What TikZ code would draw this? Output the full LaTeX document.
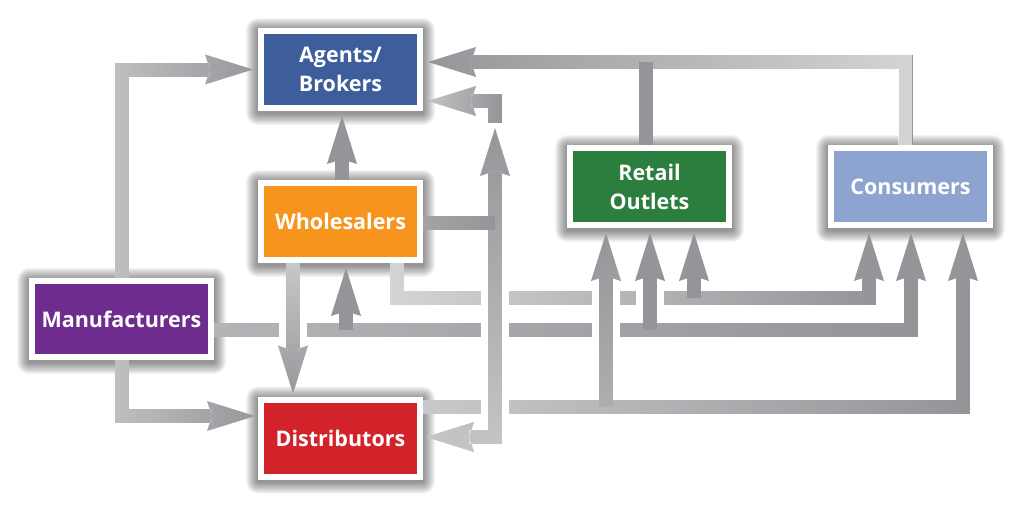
\documentclass[tikz,border=0pt]{standalone}
\usepackage{fontspec}
\setmainfont{Open Sans}
\usetikzlibrary{arrows.meta,calc,fadings}
\definecolor{agc}{HTML}{3D5E9A}
\definecolor{whc}{HTML}{F7941E}
\definecolor{mnc}{HTML}{6F2C8F}
\definecolor{dsc}{HTML}{D2232A}
\definecolor{rtc}{HTML}{2B7E3E}
\definecolor{csc}{HTML}{8EA4D0}
\definecolor{lgray}{HTML}{939598}
\tikzfading[name=lightleft, left color=transparent!0, right color=transparent!100]
\tikzfading[name=lightright, left color=transparent!100, right color=transparent!0]
\tikzfading[name=lighttop, top color=transparent!0, bottom color=transparent!100]
\tikzfading[name=lightbottom, top color=transparent!100, bottom color=transparent!0]
\pgfdeclarelayer{background}
\pgfsetlayers{background,main}
\newcommand{\softshadow}[1]{%
  \foreach \k in {1,...,12}{%
    \fill[black, opacity=0.045, rounded corners=\k pt]
      ([xshift=-\k pt, yshift=-\k pt-2pt]#1.south west) rectangle
      ([xshift=\k pt, yshift=\k pt-2pt]#1.north east);}}
\begin{document}
\begin{tikzpicture}[x=1pt,y=-1pt,
  >={Stealth[length=48pt,width=30pt,inset=5pt,line width=0pt]},
  box/.style={draw=white, line width=6pt, minimum width=159pt, minimum height=77pt,
    inner sep=0pt, outer sep=3pt, text=white,
    font=\fontsize{21.5}{29}\selectfont\bfseries, align=center},
  conn/.style={draw=lgray, line width=14pt, ->, shorten >=5pt},
  plainline/.style={draw=lgray, line width=14pt},
  casing/.style={draw=white, line width=28pt},
  fadeL/.style={postaction={draw=white, opacity=#1, path fading=lightleft}},
  fadeR/.style={postaction={draw=white, opacity=#1, path fading=lightright}},
  fadeT/.style={postaction={draw=white, opacity=#1, path fading=lighttop}},
  fadeB/.style={postaction={draw=white, opacity=#1, path fading=lightbottom}}]
\useasboundingbox (0,0) rectangle (1024,509);

% boxes
\node[box, fill=agc] (ag) at (340.5,69.5) {Agents/\\Brokers};
\node[box, fill=whc] (wh) at (340.5,221.5) {Wholesalers};
\node[box, fill=mnc, minimum width=179pt, minimum height=76pt] (mn) at (121.5,319) {Manufacturers};
\node[box, fill=dsc] (ds) at (340.5,438) {Distributors};
\node[box, fill=rtc] (rt) at (649.5,186.5) {Retail\\Outlets};
\node[box, fill=csc] (cs) at (910.5,186.5) {Consumers};

\begin{pgfonlayer}{background}
\softshadow{ag}\softshadow{wh}\softshadow{mn}\softshadow{ds}\softshadow{rt}\softshadow{cs}
\end{pgfonlayer}

% helper coordinates
\coordinate (mL) at ($(mn.east)+(0,11)$);
\coordinate (wS) at ($(wh.south)+(56.5,0)$);
\coordinate (wL) at ($(wh.south)+(56.5,35)$);
\coordinate (dL) at ($(ds.east)+(0,-31)$);
\coordinate (b1) at ($(wh.south)+(5.5,0)$);
\coordinate (b2) at ($(rt.south)+(0.5,0)$);
\coordinate (b3) at ($(rt.south)+(44.5,0)$);
\coordinate (b4) at ($(rt.south)+(-43.5,0)$);
\coordinate (c1) at ($(cs.south)+(-41.5,0)$);
\coordinate (c2) at ($(cs.south)+(0.5,0)$);
\coordinate (c3) at ($(cs.south)+(52.5,0)$);
\coordinate (tL) at ($(ag.east)+(0,-7.5)$);
\coordinate (rN) at ($(rt.north)+(-3.5,0)$);
\coordinate (cN) at ($(cs.north)+(-4.5,0)$);
\coordinate (wE) at ($(wh.east)+(0,1.5)$);
\coordinate (jn) at ($(wh.east)+(72,1.5)$);
\coordinate (upend) at ($(ag.east)+(72,55.5)$);
\coordinate (lstart) at ($(ag.east)+(72,53.5)$);
\coordinate (lend) at ($(ag.east)+(0,31.5)$);

% manufacturers to agents / distributors
\draw[conn, fadeL=0.4] (mn.north) |- (ag.west);
\draw[conn, fadeL=0.4, shorten >=3pt] (mn.south) |- ($(ds.west)+(0,-22)$);

% long horizontal lines
\draw[conn, fadeL=0.3] (mL) -| (c2);
\draw[conn, fadeL=0.6] (wS) -- (wL) -| (c1);
\draw[conn, fadeL=0.5] (dL) -| (c3);

% bridges
\draw[casing] (293,315) -- (293,345);
\draw[casing] (495,285) -- (495,420);
\draw[casing] (606,285) -- (606,395);
\draw[casing] (650,285) -- (650,318);

% verticals
\draw[conn] (b1 |- mL) -- (b1);
\draw[conn] (b2 |- mL) -- (b2);
\draw[conn] (b3 |- wL) -- (b3);
\draw[conn, fadeB=0.25] (b4 |- dL) -- (b4);
\draw[conn, fadeT=0.5, shorten >=3pt] ($(wh.south)+(-47.5,0)$) -- ($(ds.north)+(-47.5,0)$);
\draw[conn] ($(wh.north)+(1.5,0)$) -- ($(ag.south)+(1.5,0)$);

% wholesalers right
\draw[conn, <->, fadeB=0.45, shorten <=3pt, shorten >=3pt] (upend) |- ($(ds.east)+(0,-1)$);
\draw[plainline, fadeL=0.15] (wE) -- (jn);
\draw[conn, fadeL=0.5] (lstart) |- (lend);

% top line
\draw[conn, fadeR=0.6] (cN) |- (tL);
\draw[plainline] (rN) -- (rN |- tL);
\end{tikzpicture}
\end{document}
